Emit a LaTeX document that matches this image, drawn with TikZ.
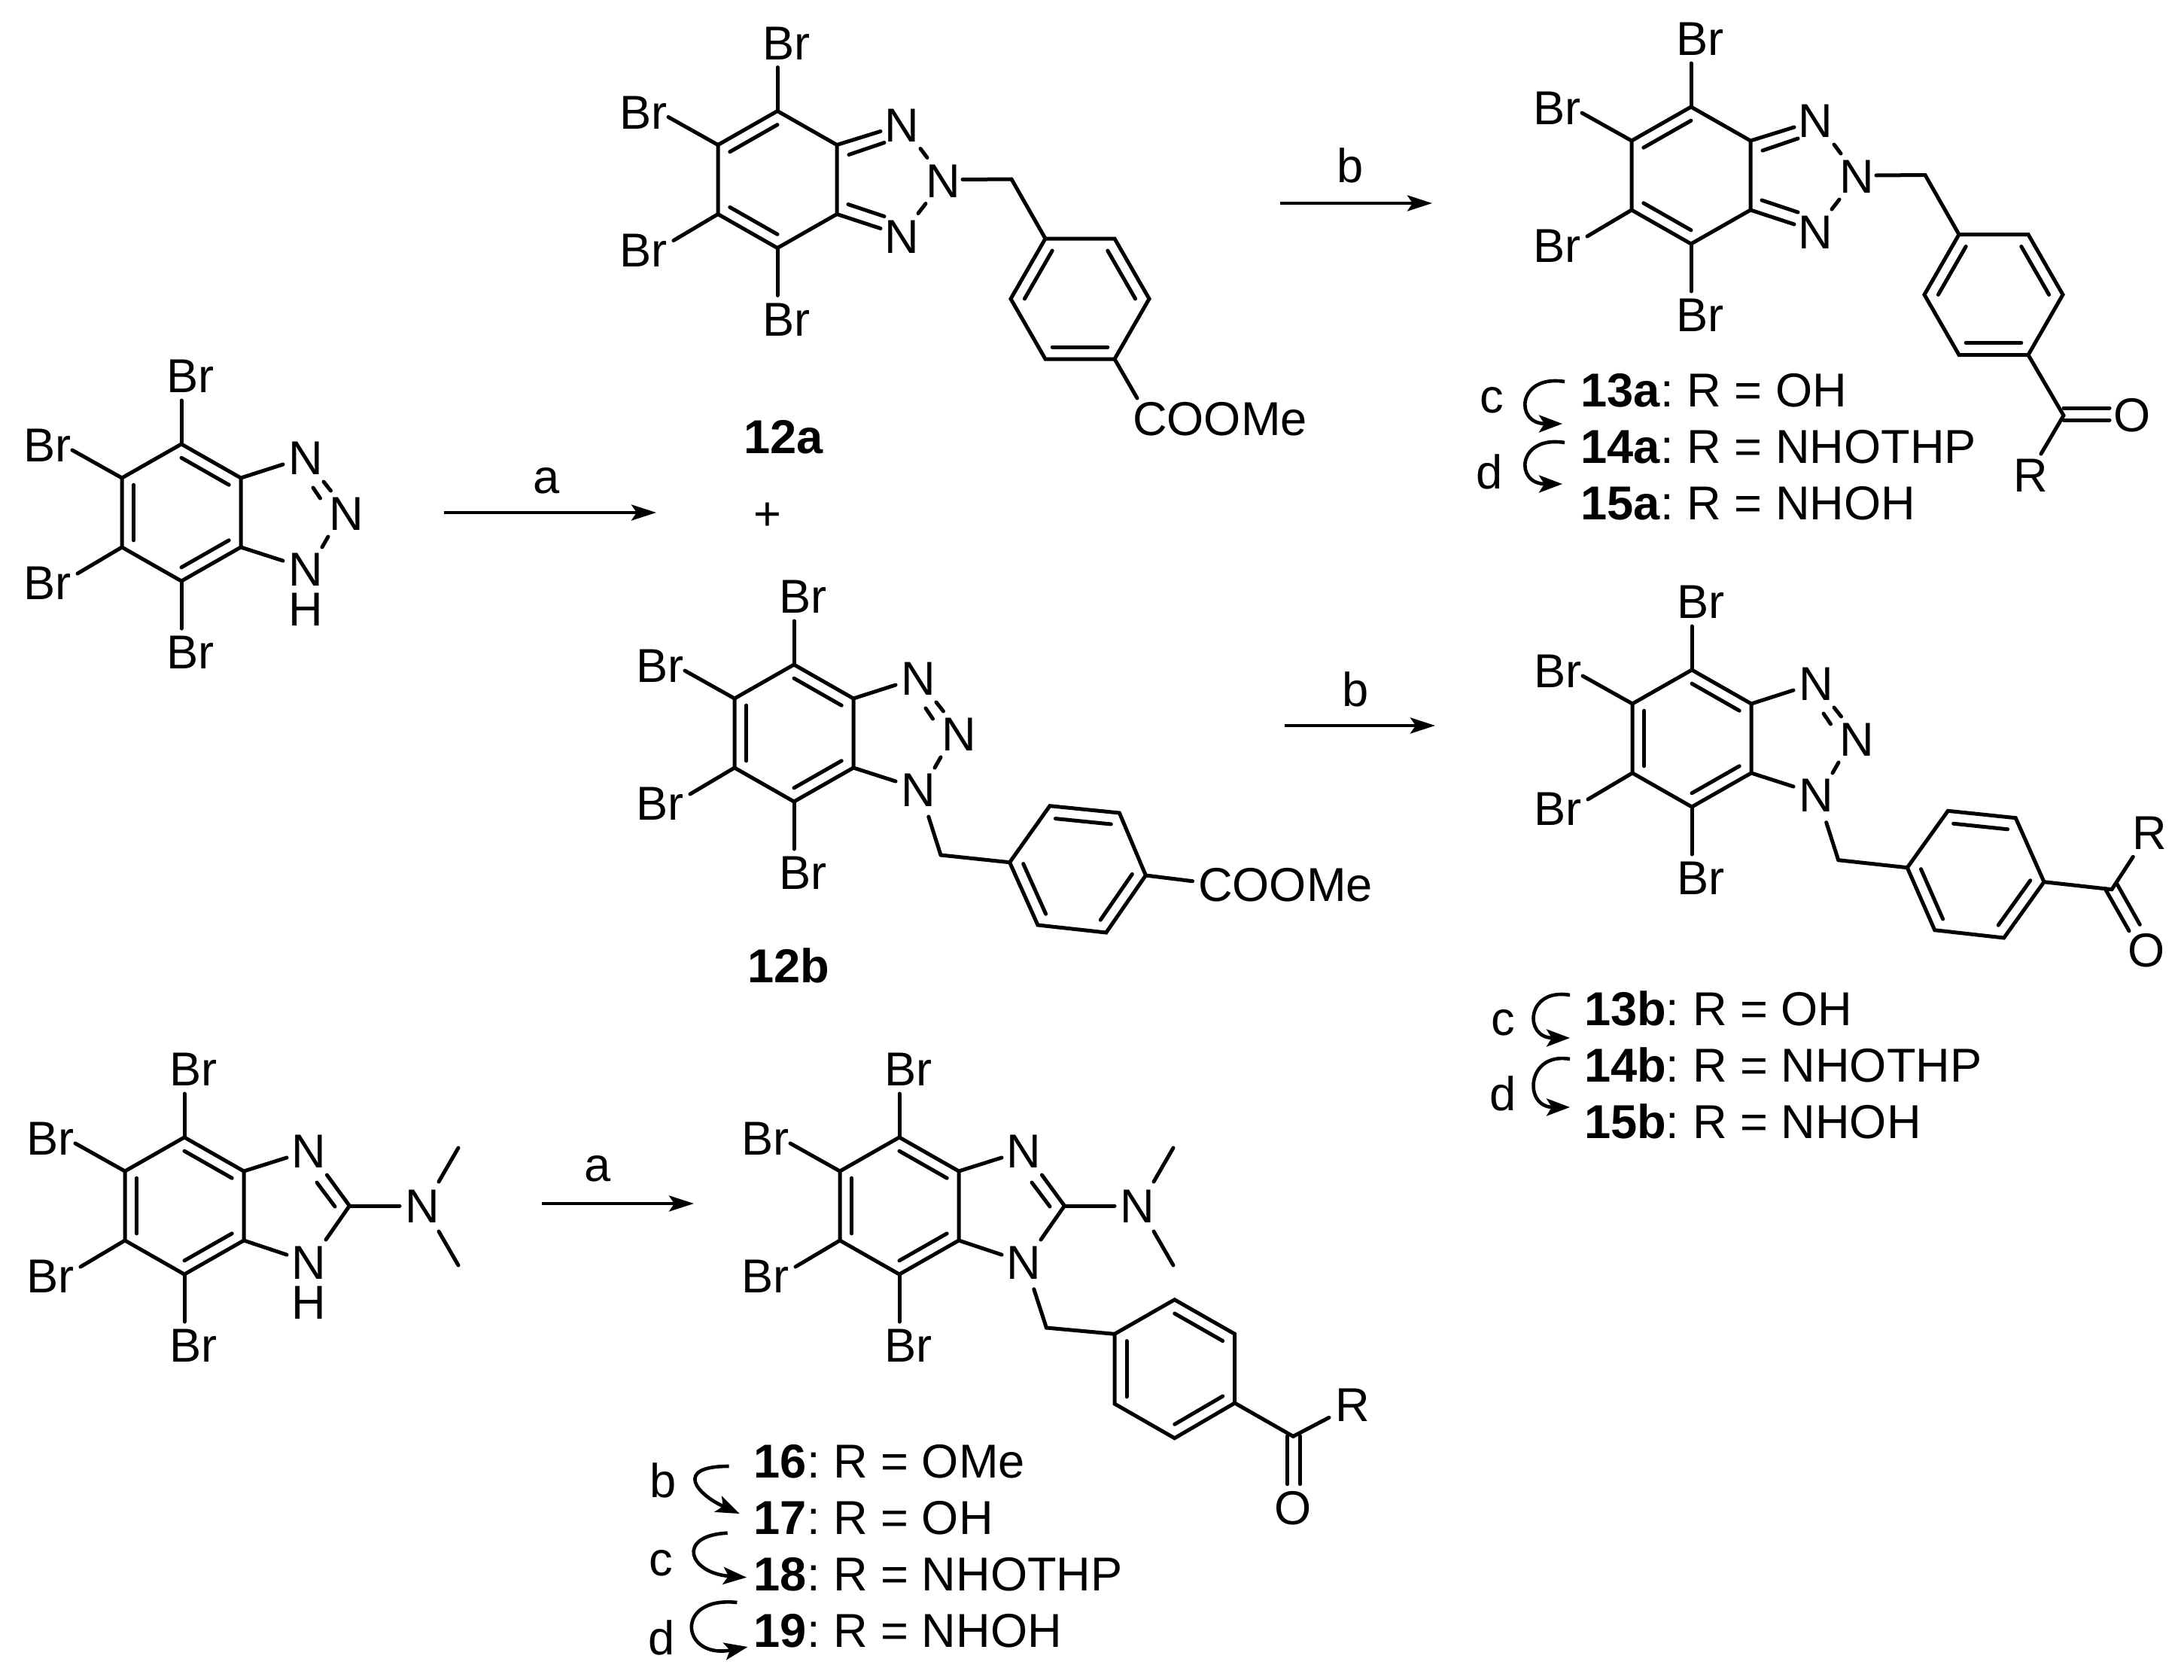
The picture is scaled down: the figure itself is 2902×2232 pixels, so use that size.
\documentclass[tikz,border=0pt]{standalone}
\usepackage{fontspec}
\setmainfont{Liberation Sans}
\usetikzlibrary{calc,arrows.meta}
\frenchspacing
\tikzset{
  bond/.style={line width=5pt,line cap=round,line join=miter,black},
  atom/.style={font=\fontsize{63.2}{70}\selectfont\frenchspacing,inner sep=0pt,outer sep=0pt,text=black},
  lbl/.style={atom,anchor=base west},
  rxn/.style={line width=4.4pt,black,-{Stealth[length=33pt,width=21pt,inset=7pt]}},
  curved/.style={line width=4.6pt,black,-{Stealth[length=31pt,width=23pt,inset=7pt]}}
}
% inner line of a double bond, drawn towards the centre of its ring
\newcommand{\dbl}[3]{\draw[bond] ($(#3)!.8!(#1)$) -- ($(#3)!.8!(#2)$);}
% tetrabromobenzo ring: name, centre x, centre y, extra content in ring coordinates
\newcommand{\benzo}[4]{%
\begin{scope}[shift={(#2,#3)},name prefix=#1-]
  \coordinate (c) at (0,0);
  \coordinate (a1) at (0,-91);
  \coordinate (a2) at (79,-46);
  \coordinate (a3) at (79,46);
  \coordinate (a4) at (0,91);
  \coordinate (a5) at (-79,46);
  \coordinate (a6) at (-79,-46);
  \draw[bond] (a1)--(a2)--(a3)--(a4)--(a5)--(a6)--cycle;
  \node[atom] (br1) at (12,-181) {Br};
  \node[atom] (br2) at (-178,-89) {Br};
  \node[atom] (br3) at (-178,94) {Br};
  \node[atom] (br4) at (12,186) {Br};
  \coordinate (e1) at (0,-149);
  \coordinate (e2) at (-145,-83);
  \coordinate (e3) at (-138,81);
  \coordinate (e4) at (0,154);
  \draw[bond] (a1)--(e1);
  \draw[bond] (a6)--(e2);
  \draw[bond] (a5)--(e3);
  \draw[bond] (a4)--(e4);
  #4
\end{scope}}
% double-bond pattern of the 1H ring
\newcommand{\patA}{\dbl{a1}{a2}{c}\dbl{a3}{a4}{c}\dbl{a5}{a6}{c}}
% 1,2,3-triazole with N=N between top N and middle N
\newcommand{\triA}{%
  \patA
  \node[atom] (n1) at (165,-72) {N};
  \node[atom] (n2) at (219,2) {N};
  \node[atom] (n3) at (165,76) {N};
  \coordinate (t1) at (135,-64);
  \coordinate (t2) at (135,64);
  \draw[bond] (a2)--(t1);
  \draw[bond] (a3)--(t2);
  \coordinate (d1) at (189,-41); \coordinate (d2) at (198.5,-29);
  \coordinate (d3) at (175,-33); \coordinate (d4) at (184.5,-19);
  \coordinate (d5) at (195,32); \coordinate (d6) at (187,46);
  \draw[bond] (d1)--(d2);
  \draw[bond] (d3)--(d4);
  \draw[bond] (d5)--(d6);
}
% 2H-triazole, quinoid ring
\newcommand{\triB}{%
  \dbl{a6}{a1}{c}\dbl{a4}{a5}{c}
  \node[atom] (n1) at (165,-72) {N};
  \node[atom] (n2) at (220,2) {N};
  \node[atom] (n3) at (165,76) {N};
  \coordinate (t1) at (137,-64); \coordinate (t2) at (95,-33); \coordinate (t3) at (142,-49);
  \coordinate (t4) at (137,65);  \coordinate (t5) at (94,33);  \coordinate (t6) at (142,49);
  \draw[bond] (a2)--(t1);
  \draw[bond] (t2)--(t3);
  \draw[bond] (a3)--(t4);
  \draw[bond] (t5)--(t6);
  \coordinate (d1) at (190,-41); \coordinate (d2) at (199,-29);
  \coordinate (d3) at (197,32); \coordinate (d4) at (187,45);
  \draw[bond] (d1)--(d2);
  \draw[bond] (d3)--(d4);
  \coordinate (nx) at (246,0);
}
% 2-dimethylamino imidazole
\newcommand{\imid}{%
  \patA
  \node[atom] (n1) at (165,-72) {N};
  \node[atom] (n3) at (165,76) {N};
  \node[atom] (nm) at (316,1) {N};
  \coordinate (c2) at (219.4,0);
  \coordinate (t1) at (136,-64); \coordinate (t2) at (136,65);
  \coordinate (t3) at (189.4,-41); \coordinate (t4) at (200,1); \coordinate (t5) at (176,-31);
  \coordinate (t6) at (188,45); \coordinate (t7) at (286,0);
  \coordinate (m1) at (338,-32); \coordinate (m2) at (364,-77);
  \coordinate (m3) at (338,34); \coordinate (m4) at (364,79);
  \draw[bond] (a2)--(t1);
  \draw[bond] (a3)--(t2);
  \draw[bond] (c2)--(t3);
  \draw[bond] (t4)--(t5);
  \draw[bond] (c2)--(t6);
  \draw[bond] (c2)--(t7);
  \draw[bond] (m1)--(m2);
  \draw[bond] (m3)--(m4);
}
% free-standing para-phenylene from six named vertices and a centre
\newcommand{\hexa}[8]{%
  \coordinate (#1-v1) at #2; \coordinate (#1-v2) at #3; \coordinate (#1-v3) at #4;
  \coordinate (#1-v4) at #5; \coordinate (#1-v5) at #6; \coordinate (#1-v6) at #7;
  \coordinate (#1-c) at #8;
  \draw[bond] (#1-v1)--(#1-v2)--(#1-v3)--(#1-v4)--(#1-v5)--(#1-v6)--cycle;
}
% flat-topped ring around (x,y)
\newcommand{\flatring}[3]{%
  \hexa{#1}{(#2-92,#3)}{(#2-46,#3-80)}{(#2+46,#3-80)}{(#2+92,#3)}{(#2+46,#3+80)}{(#2-46,#3+80)}{(#2,#3)}%
  \dbl{#1-v1}{#1-v2}{#1-c}\dbl{#1-v3}{#1-v4}{#1-c}\dbl{#1-v5}{#1-v6}{#1-c}%
}
% curved reaction arrow: name, start, first control, second control, tip
\newcommand{\curv}[5]{%
  \coordinate (#1-s) at #2;
  \coordinate (#1-t) at #5;
  \draw[curved] (#1-s) .. controls #3 and #4 .. (#1-t);
}
\begin{document}
\begin{tikzpicture}[x=1pt,y=-1pt]
\useasboundingbox (0,0) rectangle (2902,2232);
\fill[white] (0,0) rectangle (2902,2232);

% ---- left triazole
\benzo{sm}{241}{681}{\triA \node[atom] (h) at (165,129) {H};}

% ---- 12a
\benzo{xa}{1033}{238.5}{\triB}
\coordinate (xa-ch) at (1344,238);
\draw[bond] (xa-nx)--(xa-ch);
\flatring{pa}{1435}{397}
\draw[bond] (xa-ch)--(pa-v2);
\coordinate (pa-e) at (1511,529);
\draw[bond] (pa-v5)--(pa-e);
\node[atom] (coa) at (1621,557) {COOMe};
\node[atom] (l12a) at (1041,581) {\textbf{12a}};

% ---- 13a
\benzo{ya}{2247}{233}{\triB}
\coordinate (ya-ch) at (2558,232.5);
\draw[bond] (ya-nx)--(ya-ch);
\flatring{qa}{2649}{391.5}
\draw[bond] (ya-ch)--(qa-v2);
\coordinate (qa-co) at (2742,552);
\draw[bond] (qa-v5)--(qa-co);
\coordinate (qa-re) at (2712,603);
\draw[bond] (qa-co)--(qa-re);
\node[atom] (qa-r) at (2698,632) {R};
\node[atom] (qa-o) at (2833,552) {O};
\coordinate (qa-o1) at (2742,542); \coordinate (qa-o2) at (2803,542);
\coordinate (qa-o3) at (2742,558); \coordinate (qa-o4) at (2803,558);
\draw[bond] (qa-o1)--(qa-o2);
\draw[bond] (qa-o3)--(qa-o4);
\node[lbl] (t13a) at (2100.6,540) {\textbf{13a}: R = OH};
\node[lbl] (t14a) at (2100.6,615) {\textbf{14a}: R = NHOTHP};
\node[lbl] (t15a) at (2100.6,690) {\textbf{15a}: R = NHOH};
\curv{ca}{(2079,507)}{(2016,497)}{(2012,563)}{(2076,563)}
\curv{da}{(2079,588)}{(2016,578)}{(2012,643)}{(2076,643)}
\node[atom] (lca) at (1982,532) {c};
\node[atom] (lda) at (1979,627) {d};

% ---- 12b
\benzo{xb}{1055}{974}{\triA}
\coordinate (xb-ne) at (1233.8,1085);
\coordinate (xb-ch) at (1250,1136);
\draw[bond] (xb-ne)--(xb-ch);
\hexa{pb}{(1341.6,1145.7)}{(1394.9,1070.7)}{(1487.4,1080)}{(1522.4,1163)}{(1469.8,1239)}{(1379,1229)}{(1432,1155)}
\dbl{pb-v2}{pb-v3}{pb-c}\dbl{pb-v4}{pb-v5}{pb-c}\dbl{pb-v6}{pb-v1}{pb-c}
\draw[bond] (xb-ch)--(pb-v1);
\coordinate (pb-e) at (1584.6,1170.7);
\draw[bond] (pb-v4)--(pb-e);
\node[atom] (cob) at (1708,1176) {COOMe};
\node[atom] (l12b) at (1048,1283) {\textbf{12b}};

% ---- 13b
\benzo{yb}{2248}{981}{\triA}
\coordinate (yb-ne) at (2426.7,1092.7);
\coordinate (yb-ch) at (2442.7,1142.7);
\draw[bond] (yb-ne)--(yb-ch);
\hexa{qb}{(2534.3,1152.7)}{(2588.3,1077.3)}{(2678.3,1086.7)}{(2716,1171.7)}{(2662.7,1246)}{(2570.7,1235.7)}{(2625,1162)}
\dbl{qb-v2}{qb-v3}{qb-c}\dbl{qb-v4}{qb-v5}{qb-c}\dbl{qb-v6}{qb-v1}{qb-c}
\draw[bond] (yb-ch)--(qb-v1);
\coordinate (qb-co) at (2806,1181.7);
\draw[bond] (qb-v4)--(qb-co);
\coordinate (qb-re) at (2834.3,1138.3);
\draw[bond] (qb-co)--(qb-re);
\node[atom] (qb-r) at (2856.7,1106.7) {R};
\node[atom] (qb-o) at (2851.7,1262.3) {O};
\coordinate (qb-o1) at (2798.3,1182.7); \coordinate (qb-o2) at (2829,1236.7);
\coordinate (qb-o3) at (2813.3,1175); \coordinate (qb-o4) at (2843.3,1228.3);
\draw[bond] (qb-o1)--(qb-o2);
\draw[bond] (qb-o3)--(qb-o4);
\node[lbl] (t13b) at (2105,1362) {\textbf{13b}: R = OH};
\node[lbl] (t14b) at (2105,1437) {\textbf{14b}: R = NHOTHP};
\node[lbl] (t15b) at (2105,1512) {\textbf{15b}: R = NHOH};
\curv{cb}{(2086,1322)}{(2028,1312)}{(2024,1379)}{(2086,1379)}
\curv{db}{(2086,1407)}{(2028,1397)}{(2024,1471)}{(2086,1471)}
\node[atom] (lcb) at (1997,1359) {c};
\node[atom] (ldb) at (1997,1453) {d};

% ---- lower left imidazole
\benzo{sn}{245}{1602}{\imid \node[atom] (h) at (165,129) {H};}

% ---- 16
\benzo{zz}{1195}{1602}{\imid}
\coordinate (zz-ne) at (1373.8,1712.7);
\coordinate (zz-ch) at (1390.4,1764);
\draw[bond] (zz-ne)--(zz-ch);
\hexa{pz}{(1481,1772.3)}{(1560.7,1726.7)}{(1640.7,1772.3)}{(1640.7,1864)}{(1560.7,1910.7)}{(1481,1865)}{(1561,1818.5)}
\dbl{pz-v2}{pz-v3}{pz-c}\dbl{pz-v4}{pz-v5}{pz-c}\dbl{pz-v6}{pz-v1}{pz-c}
\draw[bond] (zz-ch)--(pz-v1);
\coordinate (pz-co) at (1718.3,1908.3);
\draw[bond] (pz-v4)--(pz-co);
\coordinate (pz-re) at (1766,1883.3);
\draw[bond] (pz-co)--(pz-re);
\node[atom] (pz-r) at (1797.7,1866.7) {R};
\node[atom] (pz-o) at (1718.3,2003.3) {O};
\coordinate (pz-o1) at (1710.7,1908); \coordinate (pz-o2) at (1710.7,1971.7);
\coordinate (pz-o3) at (1727.7,1908); \coordinate (pz-o4) at (1727.7,1971.7);
\draw[bond] (pz-o1)--(pz-o2);
\draw[bond] (pz-o3)--(pz-o4);
\node[lbl] (t16) at (1001.8,1963) {\textbf{16}: R = OMe};
\node[lbl] (t17) at (1001.8,2038) {\textbf{17}: R = OH};
\node[lbl] (t18) at (1001.8,2113) {\textbf{18}: R = NHOTHP};
\node[lbl] (t19) at (1001.8,2188) {\textbf{19}: R = NHOH};
\curv{bz}{(968.6,1948)}{(895,1948)}{(925,1985)}{(982.6,2011)}
\curv{cz}{(966.7,2036.7)}{(898,2040)}{(915,2090)}{(992,2095.7)}
\curv{dz}{(979.4,2129)}{(895,2120)}{(905,2205)}{(993.5,2188)}
\node[atom] (lbz) at (880.6,1966.7) {b};
\node[atom] (lcz) at (878.7,2076.7) {c};
\node[atom] (ldz) at (878.7,2176) {d};

% ---- reaction arrows
\coordinate (r1s) at (590,681); \coordinate (r1t) at (872,681);
\draw[rxn] (r1s)--(r1t);
\node[atom] (la1) at (726,639) {a};
\node[atom] (plus) at (1020,686) {+};
\coordinate (r2s) at (1701,270); \coordinate (r2t) at (1903,270);
\draw[rxn] (r2s)--(r2t);
\node[atom] (lb2) at (1794,220) {b};
\coordinate (r3s) at (1707,964); \coordinate (r3t) at (1907,964);
\draw[rxn] (r3s)--(r3t);
\node[atom] (lb3) at (1801,916) {b};
\coordinate (r4s) at (720,1599); \coordinate (r4t) at (922,1599);
\draw[rxn] (r4s)--(r4t);
\node[atom] (la4) at (794,1553) {a};
\end{tikzpicture}
\end{document}
